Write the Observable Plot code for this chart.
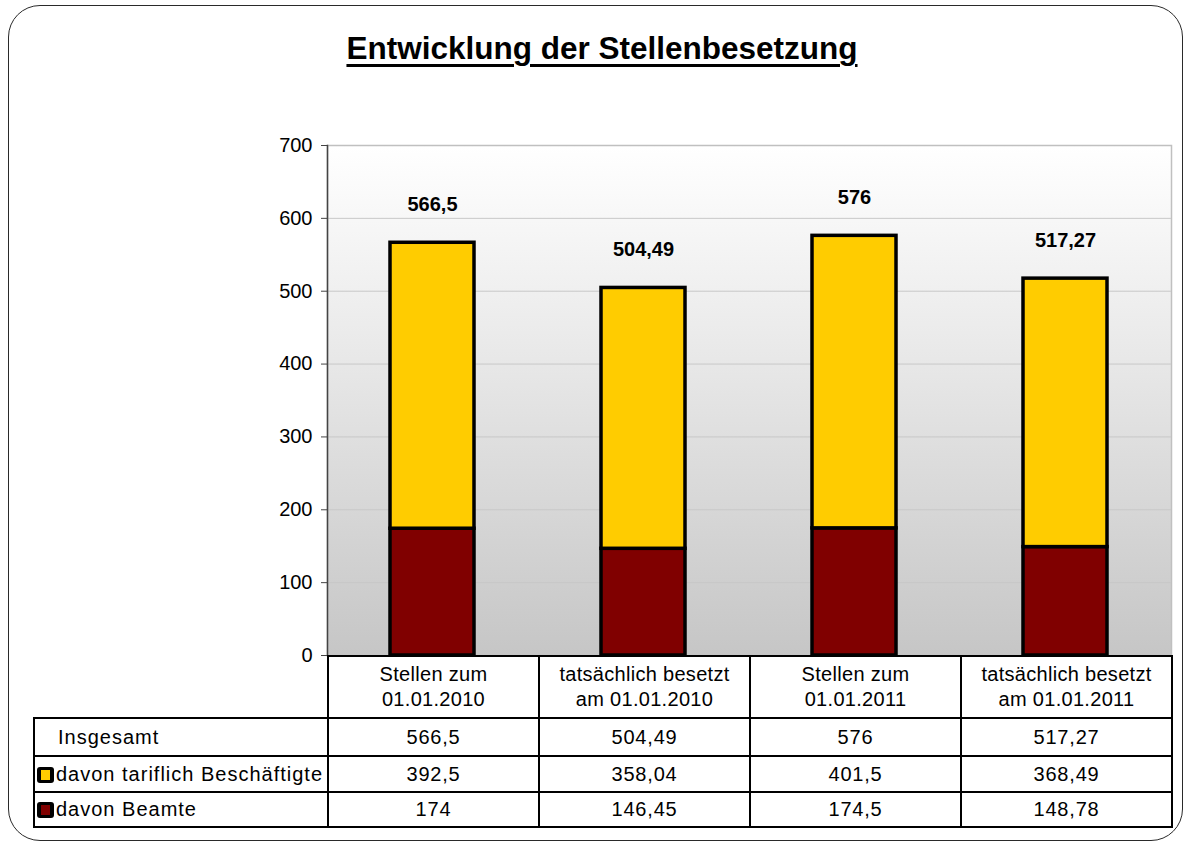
<!DOCTYPE html>
<html>
<head>
<meta charset="utf-8">
<script src="https://cdn.jsdelivr.net/npm/d3@7"></script>
<script src="https://cdn.jsdelivr.net/npm/@observablehq/plot@0.6"></script>
<style>
  html, body { margin: 0; padding: 0; background: #fff; }
  body { font-family: "Liberation Sans", Arial, sans-serif; color: #000; }
  #page { position: relative; width: 1185px; height: 843px; overflow: hidden; }
  #border { position: absolute; left: 8px; top: 5px; width: 1175px; height: 836px; border: 1.5px solid #2a2a2a; border-radius: 32px; box-sizing: border-box; }
  #title { position: absolute; left: 0; width: 1204px; top: 30px; text-align: center; font-weight: bold; font-size: 31.5px; line-height: 36px; text-decoration: underline; text-decoration-thickness: 2.5px; text-underline-offset: 5px; }
  #chart { position: absolute; left: 0; top: 120px; }
  #tbl { position: absolute; left: 33px; top: 655px; border-collapse: collapse; font-size: 20px; table-layout: fixed; }
  #tbl td { padding: 0; text-align: center; vertical-align: middle; border: 2px solid #000; letter-spacing: 0.8px; }
  #tbl tr.head td { line-height: 25px; white-space: pre-line; letter-spacing: 0.3px; }
  #tbl tr.head td.empty { border-left: none; border-top: none; }
  #tbl td.lab { text-align: left; white-space: nowrap; letter-spacing: 1px; }
  .key { display: inline-block; width: 17px; height: 16px; background: #000; border-radius: 3px; position: relative; vertical-align: -2px; margin-left: 2px; margin-right: 2px; }
  .key span { position: absolute; left: 4px; top: 3px; width: 9px; height: 10px; }
</style>
</head>
<body>
<div id="page">
  <div id="border"></div>
  <div id="title">Entwicklung der Stellenbesetzung</div>
  <div id="chart"></div>
  <table id="tbl"></table>
</div>
<script>
// ---- data ----
const categories = [
  "Stellen zum\n01.01.2010",
  "tatsächlich besetzt\nam 01.01.2010",
  "Stellen zum\n01.01.2011",
  "tatsächlich besetzt\nam 01.01.2011"
];
const insgesamt = [566.5, 504.49, 576, 517.27];
const tariflich = [392.5, 358.04, 401.5, 368.49];
const beamte = [174, 146.45, 174.5, 148.78];
const totalLabel = "Insgesamt";
const seriesNames = ["davon tariflich Beschäftigte", "davon Beamte"];
const seriesColors = ["#FFCC00", "#800000"];
const yTicks = [0, 100, 200, 300, 400, 500, 600, 700];

const fmt = v => String(v).replace(".", ",");

// ---- tables for Plot ----
const stacked = [];
categories.forEach((c, i) => {
  stacked.push({cat: c, series: seriesNames[1], value: beamte[i]});
  stacked.push({cat: c, series: seriesNames[0], value: tariflich[i]});
});
const totals = categories.map((c, i) => ({cat: c, value: insgesamt[i]}));

const chart = Plot.plot({
  width: 1185,
  height: 550,
  marginLeft: 327,
  marginRight: 14,
  marginTop: 25,
  marginBottom: 15,
  style: {fontFamily: "Liberation Sans, Arial, sans-serif", fontSize: "20px", color: "#000", background: "transparent", overflow: "visible"},
  x: {domain: categories, paddingInner: 0.6, paddingOuter: 0.3, axis: null},
  y: {domain: [0, 700], label: null, axis: null},
  color: {domain: seriesNames, range: seriesColors},
  marks: [
    Plot.frame({fill: "url(#bgGrad)", stroke: "#c0c0c0", strokeWidth: 1.5}),
    Plot.ruleY(yTicks.slice(1, -1), {stroke: "#c8c8c8", strokeWidth: 1}),
    Plot.axisY({ticks: yTicks, tickSize: 6, tickPadding: 9, fontSize: 20, tickFormat: d => String(d), stroke: "#444", label: null}),
    Plot.barY(stacked, {x: "cat", y: "value", fill: "series", stroke: "#000", strokeWidth: 3.5, inset: 0}),
    Plot.text(totals, {x: "cat", y: "value", text: d => fmt(d.value), dy: -38, fontWeight: "bold", fontSize: 20, fill: "#000"}),
    Plot.frame({anchor: "left", stroke: "#444", strokeWidth: 1.5})
  ]
});

d3.select(chart).insert("defs", ":first-child").html(
  '<linearGradient id="bgGrad" x1="0" y1="0" x2="0" y2="1">' +
  '<stop offset="0" stop-color="#ffffff"/>' +
  '<stop offset="0.35" stop-color="#ececec"/>' +
  '<stop offset="1" stop-color="#c6c6c6"/>' +
  '</linearGradient>'
);
document.getElementById("chart").appendChild(chart);

// ---- data table below the chart ----
const tbl = d3.select("#tbl");
const cg = tbl.append("colgroup");
cg.append("col").style("width", "294px");
categories.forEach(() => cg.append("col").style("width", "211px"));

const head = tbl.append("tr").attr("class", "head").style("height", "62px");
head.append("td").attr("class", "empty");
categories.forEach(c => head.append("td").text(c));

const r1 = tbl.append("tr").style("height", "38px");
r1.append("td").attr("class", "lab").style("padding-left", "23px").text(totalLabel);
insgesamt.forEach(v => r1.append("td").text(fmt(v)));

const series = [[seriesNames[0], seriesColors[0], tariflich], [seriesNames[1], seriesColors[1], beamte]];
series.forEach(([name, col, vals], k) => {
  const r = tbl.append("tr").style("height", k === 0 ? "36px" : "35px");
  const td = r.append("td").attr("class", "lab");
  td.append("span").attr("class", "key").append("span").style("background", col);
  td.append("span").text(name);
  vals.forEach(v => r.append("td").text(fmt(v)));
});
</script>
</body>
</html>
